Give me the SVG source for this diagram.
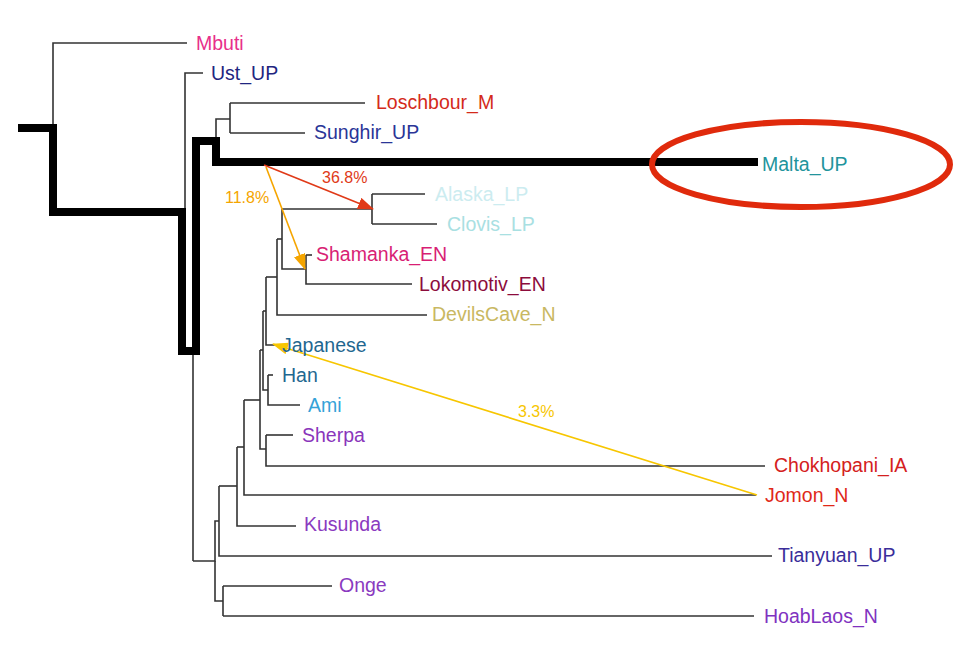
<svg xmlns="http://www.w3.org/2000/svg" width="960" height="660" viewBox="0 0 960 660">
<style>
text{font-family:"Liberation Sans",Arial,Helvetica,sans-serif;font-size:19.5px}
.e{fill:none;stroke:#333;stroke-width:1.6}
.thick{fill:none;stroke:#000;stroke-width:8;stroke-linejoin:miter}
text.pct{font-size:16px}
</style>
<defs>
<marker id="aRed" markerUnits="userSpaceOnUse" markerWidth="16" markerHeight="12" refX="15" refY="6" orient="auto"><path d="M0,0 L16,6 L0,12 Z" fill="#e03a18"/></marker>
<marker id="aOrange" markerUnits="userSpaceOnUse" markerWidth="16" markerHeight="12" refX="15" refY="6" orient="auto"><path d="M0,0 L16,6 L0,12 Z" fill="#f5a500"/></marker>
<marker id="aYellow" markerUnits="userSpaceOnUse" markerWidth="16" markerHeight="12" refX="15" refY="6" orient="auto"><path d="M0,0 L16,6 L0,12 Z" fill="#f7c600"/></marker>
</defs>
<rect width="960" height="660" fill="#fff"/>
<g id="edges">
<path class="e" d="M53,128 V43 H187"/>
<path class="e" d="M185,212 V73 H203"/>
<path class="e" d="M185,212 V351"/>
<path class="e" d="M193,141 V561"/>
<path class="e" d="M216,141 V119 H230"/>
<path class="e" d="M230,103 V133"/>
<path class="e" d="M230,103 H365"/>
<path class="e" d="M230,133 H305"/>
<path class="e" d="M193,561 H215 V521 H219"/>
<path class="e" d="M215,561 V601 H223"/>
<path class="e" d="M223,586 V616"/>
<path class="e" d="M223,586 H332"/>
<path class="e" d="M223,616 H754"/>
<path class="e" d="M219,486 V556 H772"/>
<path class="e" d="M219,486 H237"/>
<path class="e" d="M237,447 V526 H296"/>
<path class="e" d="M237,447 H244"/>
<path class="e" d="M244,400 V495 H756"/>
<path class="e" d="M244,400 H260"/>
<path class="e" d="M260,350 V449 H266"/>
<path class="e" d="M260,350 H263"/>
<path class="e" d="M266,435 V466 H765"/>
<path class="e" d="M266,435 H293"/>
<path class="e" d="M263,311 V390 H268"/>
<path class="e" d="M263,311 H266"/>
<path class="e" d="M268,375 V405 H300"/>
<path class="e" d="M268,375 H273"/>
<path class="e" d="M266,277 V345 H275"/>
<path class="e" d="M266,277 H277"/>
<path class="e" d="M277,239 V315 H427"/>
<path class="e" d="M277,239 H282"/>
<path class="e" d="M282,209 V269 H306"/>
<path class="e" d="M282,209 H372"/>
<path class="e" d="M306,255 V284 H412"/>
<path class="e" d="M306,255 H312"/>
<path class="e" d="M372,194 V224"/>
<path class="e" d="M372,194 H425"/>
<path class="e" d="M372,224 H437"/>
<path class="thick" d="M18,128 H53 V212 H182 V351 H196 V141 H216 V162 H758"/>
<line x1="264" y1="165" x2="373" y2="209" stroke="#e03a18" stroke-width="1.6" marker-end="url(#aRed)"/>
<line x1="266" y1="167" x2="305" y2="269" stroke="#f5a500" stroke-width="1.6" marker-end="url(#aOrange)"/>
<line x1="757" y1="495" x2="273" y2="344" stroke="#f7c600" stroke-width="1.6" marker-end="url(#aYellow)"/>
</g>
<g id="labels-edges">
<text class="pct" x="322" y="183" fill="#e03a18">36.8%</text>
<text class="pct" x="225" y="203" fill="#f5a500">11.8%</text>
<text class="pct" x="518" y="417" fill="#f7c600">3.3%</text>
</g>
<g id="n-Mbuti"><text x="196" y="50" fill="#e8308a">Mbuti</text></g>
<g id="n-Ust_UP"><text x="211" y="80" fill="#1f2580">Ust_UP</text></g>
<g id="n-Loschbour_M"><text x="376" y="109" fill="#d42a1a">Loschbour_M</text></g>
<g id="n-Sunghir_UP"><text x="314" y="139" fill="#2a3597">Sunghir_UP</text></g>
<g id="n-Malta_UP"><text x="762" y="171" fill="#22949c">Malta_UP</text></g>
<g id="n-ellipse"><ellipse cx="801" cy="164.5" rx="149" ry="42.5" fill="none" stroke="#e02a0c" stroke-width="6"/></g>
<g id="n-Alaska_LP"><text x="435" y="201" fill="#ccecf0">Alaska_LP</text></g>
<g id="n-Clovis_LP"><text x="447" y="231" fill="#a9e0e2">Clovis_LP</text></g>
<g id="n-Shamanka_EN"><text x="316" y="261" fill="#d81e74">Shamanka_EN</text></g>
<g id="n-Lokomotiv_EN"><text x="419" y="291" fill="#8c0c3c">Lokomotiv_EN</text></g>
<g id="n-DevilsCave_N"><text x="432" y="321" fill="#c9b862">DevilsCave_N</text></g>
<g id="n-Japanese"><text x="282" y="352" fill="#1f6790">Japanese</text></g>
<g id="n-Han"><text x="282" y="382" fill="#1f6790">Han</text></g>
<g id="n-Ami"><text x="308" y="412" fill="#35a2d8">Ami</text></g>
<g id="n-Sherpa"><text x="302" y="442" fill="#8a35bb">Sherpa</text></g>
<g id="n-Chokhopani_IA"><text x="774" y="472" fill="#d42020">Chokhopani_IA</text></g>
<g id="n-Jomon_N"><text x="765" y="502" fill="#e02818">Jomon_N</text></g>
<g id="n-Kusunda"><text x="304" y="531" fill="#8a3ac0">Kusunda</text></g>
<g id="n-Tianyuan_UP"><text x="778" y="562" fill="#3a2d9a">Tianyuan_UP</text></g>
<g id="n-Onge"><text x="339" y="592" fill="#8a3ac0">Onge</text></g>
<g id="n-HoabLaos_N"><text x="764" y="623" fill="#8032c0">HoabLaos_N</text></g>
</svg>
